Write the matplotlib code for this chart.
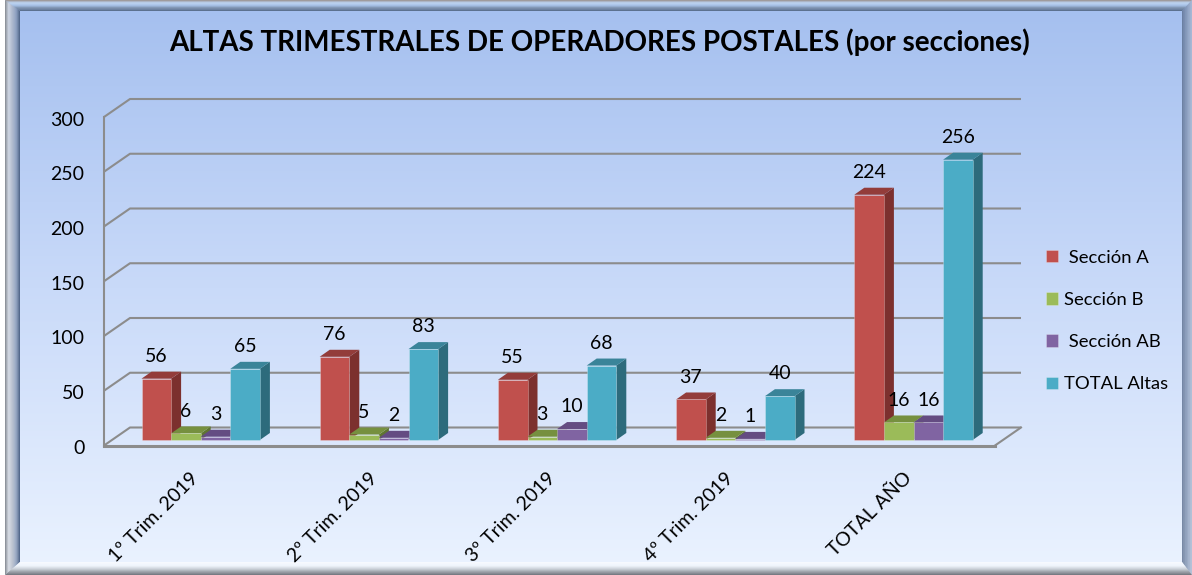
import numpy as np
import matplotlib
matplotlib.use('Agg')
import matplotlib.pyplot as plt
from matplotlib.colors import LinearSegmentedColormap
from matplotlib.patches import Polygon
from matplotlib.transforms import ScaledTranslation

# data
categories = ['1º Trim. 2019', '2º Trim. 2019', '3º Trim. 2019', '4º Trim. 2019', 'TOTAL AÑO']
seccion_a = [56, 76, 55, 37, 224]
seccion_b = [6, 5, 3, 2, 16]
seccion_ab = [3, 2, 10, 1, 16]
total_altas = [65, 83, 68, 40, 256]
y_ticks = [0, 50, 100, 150, 200, 250, 300]

names = [' Sección A', 'Sección B', ' Sección AB', 'TOTAL Altas']
series = [seccion_a, seccion_b, seccion_ab, total_altas]
front_colors = ['#C0504D', '#9BBB59', '#8064A2', '#4BACC6']
side_colors = ['#7C302E', '#5F7530', '#4E3B66', '#2D6B7C']
top_colors = ['#933C3A', '#76903F', '#644C82', '#3A8499']

W, H = 1192, 575
plt.rcParams['font.family'] = ['Lato', 'DejaVu Sans']

fig = plt.figure(figsize=(W / 100, H / 100), dpi=100, facecolor='white')

# background panel, in pixel coordinates
bg = fig.add_axes([0, 0, 1, 1], zorder=0)
bg.set_xlim(0, W)
bg.set_ylim(H, 0)
bg.axis('off')
grad = LinearSegmentedColormap.from_list('panel', ['#A4BFEF', '#C9DAF9', '#EBF3FF'])
bg.imshow(np.linspace(0, 1, 256).reshape(-1, 1), cmap=grad, aspect='auto',
          extent=[5, W, H, 0], zorder=1)

# bevelled frame, one trapezoid per side per layer
left_cm = LinearSegmentedColormap.from_list('l', ['#8E939B', '#D5D9E0', '#B0B6C2', '#8A9BB8', '#54698C'])
top_cm = LinearSegmentedColormap.from_list('t', ['#9C8F84', '#C4DAF2', '#A9C4E6', '#74879F', '#4E617C'])
right_cm = LinearSegmentedColormap.from_list('r', ['#A9B8D0', '#8496B4', '#5C6F8F'])
bottom_cm = LinearSegmentedColormap.from_list('b', ['#6F737A', '#8C9097', '#C8CCD2', '#F2F6FC', '#F7FAFF'])
outer = np.array([5, 0, W, H], dtype=float)
inner = np.array([20, 11, 1182, 562], dtype=float)
n_layers = 14
for i in range(n_layers):
    a = outer + (inner - outer) * i / n_layers
    b = outer + (inner - outer) * (i + 1) / n_layers
    t = i / (n_layers - 1)
    bg.add_patch(Polygon([(a[0], a[1]), (b[0], b[1]), (b[0], b[3]), (a[0], a[3])], fc=left_cm(t), ec='none', zorder=2))
    bg.add_patch(Polygon([(a[0], a[1]), (a[2], a[1]), (b[2], b[1]), (b[0], b[1])], fc=top_cm(t), ec='none', zorder=2))
    bg.add_patch(Polygon([(a[2], a[1]), (a[2], a[3]), (b[2], b[3]), (b[2], b[1])], fc=right_cm(t), ec='none', zorder=2))
    bg.add_patch(Polygon([(a[0], a[3]), (a[2], a[3]), (b[2], b[3]), (b[0], b[3])], fc=bottom_cm(t), ec='none', zorder=2))

# the chart axes: front plane of the fake 3d box
ax_left, ax_right, ax_top, ax_bottom = 104, 995, 117, 445.5
ax = fig.add_axes([ax_left / W, 1 - ax_bottom / H, (ax_right - ax_left) / W, (ax_bottom - ax_top) / H],
                  zorder=1)
ax.patch.set_alpha(0)
ax.set_xlim(-0.5, len(categories) - 0.5)
ax.set_ylim(0, 300)
for s in ax.spines.values():
    s.set_visible(False)

x_per_px = len(categories) / (ax_right - ax_left)
y_per_px = 300 / (ax_bottom - ax_top)

# walls and grid lines
wall_dx = 26 * x_per_px
wall_dy = 18 * y_per_px
grid_color = '#8C8C8C'
x_min, x_max = ax.get_xlim()
for v in y_ticks:
    ax.plot([x_min, x_min + wall_dx, x_max + wall_dx], [v, v + wall_dy, v + wall_dy],
            color=grid_color, lw=1.5, clip_on=False, zorder=1, solid_capstyle='butt')
ax.plot([x_min, x_min], [0, 300], color=grid_color, lw=1.5, clip_on=False, zorder=1)
ax.plot([x_max, x_max + wall_dx], [0, wall_dy], color=grid_color, lw=1.5, clip_on=False, zorder=1)
ax.plot([x_min, x_max], [0, 0], color=grid_color, lw=2.2, clip_on=False, zorder=1)

# bars: front face with ax.bar, side and top as polygons
bar_w = 29.6 * x_per_px
shift = 7.6 * x_per_px
lift = 5.5 * y_per_px
dx = 10 * x_per_px
dy = 7 * y_per_px
x = np.arange(len(categories))
handles = []
for j, vals in enumerate(series):
    left = x + shift + (j - 2) * bar_w
    z = 3 + j
    bars = ax.bar(left, vals, width=bar_w, bottom=lift, align='edge', color=front_colors[j],
                  edgecolor=(1, 1, 1, 0.25), linewidth=0.7, label=names[j], zorder=z + 0.2, clip_on=False)
    handles.append(bars)
    for xl, v in zip(left, vals):
        top = v + lift
        ax.add_patch(Polygon([(xl + bar_w, lift), (xl + bar_w + dx, lift + dy),
                              (xl + bar_w + dx, top + dy), (xl + bar_w, top)],
                             fc=side_colors[j], ec='none', zorder=z, clip_on=False))
        ax.add_patch(Polygon([(xl, top), (xl + dx, top + dy), (xl + bar_w + dx, top + dy), (xl + bar_w, top)],
                             fc=top_colors[j], ec='none', zorder=z, clip_on=False))
        ax.annotate(str(v), (xl + bar_w / 2, top), xytext=(0, 16), textcoords='offset points',
                    ha='center', va='center', fontsize=14, color='black', zorder=20,
                    annotation_clip=False)

ax.set_xticks(x)
ax.set_xticklabels(categories, rotation=45, ha='right', va='top', rotation_mode='anchor', fontsize=14)
ax.set_yticks(y_ticks)
ax.tick_params(axis='x', length=0, pad=17)
ax.tick_params(axis='y', length=0, pad=14, labelsize=14)
for lab in ax.get_xticklabels():
    lab.set_transform(lab.get_transform() + ScaledTranslation(-3 / 100, 0, fig.dpi_scale_trans))
for lab in ax.get_yticklabels():
    lab.set_transform(lab.get_transform() + ScaledTranslation(0, -1.5 / 100, fig.dpi_scale_trans))

fig.text(600 / W, 1 - 42 / H, 'ALTAS TRIMESTRALES DE OPERADORES POSTALES (por secciones)',
         ha='center', va='center', fontsize=20, fontweight='bold', color='black')

ax.legend(handles=handles, labels=names, frameon=False, fontsize=13.3, loc='center left',
          bbox_to_anchor=(1046 / W, 1 - 321 / H), bbox_transform=fig.transFigure,
          handlelength=0.65, handleheight=0.65, handletextpad=0.3, labelspacing=1.42,
          borderpad=0, borderaxespad=0)

fig.savefig('out.png', dpi=100)
